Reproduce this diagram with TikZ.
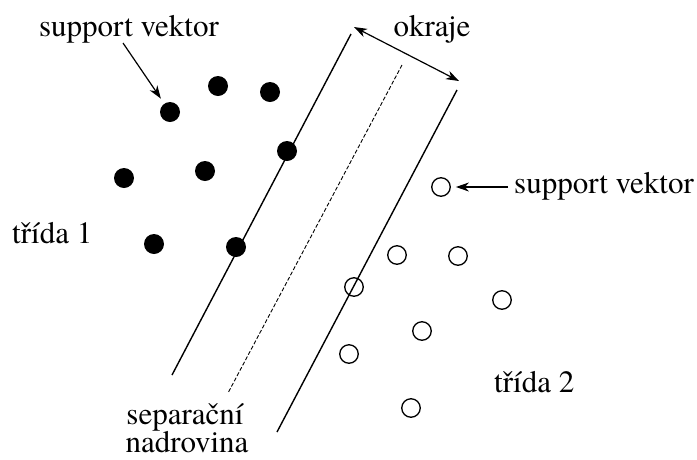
\documentclass[tikz,border=0pt]{standalone}
\usepackage{fontspec}
\setmainfont{TeX Gyre Termes}
\usetikzlibrary{arrows.meta}
\begin{document}
\begin{tikzpicture}[x=1pt,y=-1pt,
  lbl/.style={font=\rmfamily\fontsize{31}{28}\selectfont, inner sep=0pt, anchor=base west},
  fdot/.style={circle, fill=black, minimum size=20pt, inner sep=0pt},
  odot/.style={circle, draw=black, line width=1.3pt, minimum size=18.5pt, inner sep=0pt},
  sline/.style={line width=1.4pt},
  arr/.style={line width=1.2pt, -{Stealth[length=13pt,width=9pt,inset=4pt]}},
  darr/.style={line width=1.2pt, {Stealth[length=13pt,width=9pt,inset=4pt]}-{Stealth[length=13pt,width=9pt,inset=4pt]}}]
\useasboundingbox (0,0) rectangle (697,459);
% lines
\coordinate (l1a) at (351,34); \coordinate (l1b) at (172,375);
\coordinate (l2a) at (402,65); \coordinate (l2b) at (228,393);
\coordinate (l3a) at (457,90); \coordinate (l3b) at (277,432);
\draw[sline] (l1a) -- (l1b);
\draw[line width=0.9pt, dash pattern=on 4pt off 2pt] (l2a) -- (l2b);
\draw[sline] (l3a) -- (l3b);
% filled dots
\node[fdot] (d1) at (170,112) {};
\node[fdot] (d2) at (218,86) {};
\node[fdot] (d3) at (270,92) {};
\node[fdot] (d4) at (124,178) {};
\node[fdot] (d5) at (205,171) {};
\node[fdot] (d6) at (287,151) {};
\node[fdot] (d7) at (154,244) {};
\node[fdot] (d8) at (236,247) {};
% open circles
\node[odot] (c1) at (441,187) {};
\node[odot] (c2) at (397,255) {};
\node[odot] (c3) at (458,256) {};
\node[odot] (c4) at (354,287) {};
\node[odot] (c5) at (502,300) {};
\node[odot] (c6) at (422,331) {};
\node[odot] (c7) at (349,354) {};
\node[odot] (c8) at (411,408) {};
% labels
\node[lbl, anchor=base] (sv1) at (129,36) {support vektor};
\node[lbl, anchor=base] (ok) at (432,36) {okraje};
\node[lbl] (sv2) at (514,193) {support vektor};
\node[lbl] (t1) at (12,243) {třída 1};
\node[lbl] (t2) at (494,392) {třída 2};
\node[lbl, anchor=base] (sep1) at (185,424) {separační};
\node[lbl, anchor=base] (sep2) at (187,452) {nadrovina};
% arrows
\coordinate (a1) at (123,43);
\draw[arr, shorten >=6pt] (a1) -- (d1);
\coordinate (a2) at (508,187);
\draw[arr, shorten >=5pt] (a2) -- (c1);
\coordinate (m1) at (354,27); \coordinate (m2) at (459,81);
\draw[darr] (m1) -- (m2);
\end{tikzpicture}
\end{document}
